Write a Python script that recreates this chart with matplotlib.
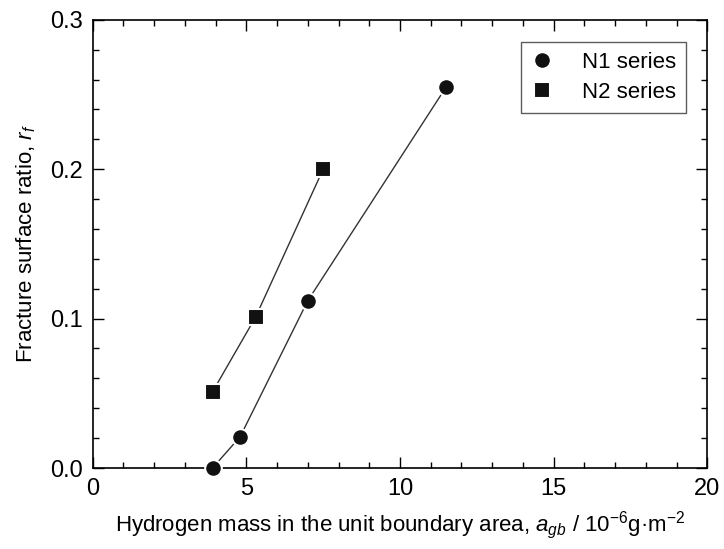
import matplotlib.pyplot as plt
from matplotlib.ticker import MultipleLocator

plt.rcParams['font.family'] = ['Liberation Sans', 'DejaVu Sans']
plt.rcParams['mathtext.fontset'] = 'custom'
plt.rcParams['mathtext.rm'] = 'Liberation Sans'
plt.rcParams['mathtext.it'] = 'Liberation Sans:italic'

# N1 series
n1_x = [3.9, 4.8, 7.0, 11.5]
n1_y = [0.0, 0.021, 0.112, 0.255]
# N2 series
n2_x = [3.9, 5.3, 7.5]
n2_y = [0.051, 0.101, 0.200]

fig = plt.figure(figsize=(7.24, 5.49), dpi=100)
ax = fig.add_axes([0.128, 0.1475, 0.849, 0.8165])

# lines
ax.plot(n1_x, n1_y, '-', color='#333333', lw=1.0, zorder=2)
ax.plot(n2_x, n2_y, '-', color='#333333', lw=1.0, zorder=2)
# markers (white edge leaves a small gap around the line)
ax.plot(n1_x, n1_y, ls='none', marker='o', ms=12, mfc='#111111', mec='white',
        mew=1.5, label='N1 series', clip_on=False, zorder=3)
ax.plot(n2_x, n2_y, ls='none', marker='s', ms=11, mfc='#111111', mec='white',
        mew=1.5, label='N2 series', clip_on=False, zorder=3)

ax.set_xlim(0, 20)
ax.set_ylim(0, 0.3)
ax.xaxis.set_major_locator(MultipleLocator(5))
ax.xaxis.set_minor_locator(MultipleLocator(1))
ax.yaxis.set_minor_locator(MultipleLocator(0.02))
ax.set_yticks([0, 0.1, 0.2, 0.3])
ax.set_yticklabels(['0.0', '0.1', '0.2', '0.3'])
ax.tick_params(which='both', direction='in', top=True, right=True, width=1.0)
ax.tick_params(which='major', length=8, labelsize=17, pad=7)
ax.tick_params(which='minor', length=4)
for s in ax.spines.values():
    s.set_linewidth(1.2)

ax.set_xlabel('Hydrogen mass in the unit boundary area, $a_{gb}$ / 10$^{-6}$g·m$^{-2}$',
              fontsize=16, labelpad=7)
ax.set_ylabel('Fracture surface ratio, $r_f$', fontsize=16, labelpad=9)

leg = ax.legend(loc='upper right', bbox_to_anchor=(0.966, 0.951), borderaxespad=0,
                fontsize=16, frameon=True, fancybox=False, edgecolor='#333333',
                handlelength=1.0, handletextpad=1.3, borderpad=0.45,
                labelspacing=0.4)
leg.get_frame().set_linewidth(1.0)

fig.savefig('out.png', dpi=100)
